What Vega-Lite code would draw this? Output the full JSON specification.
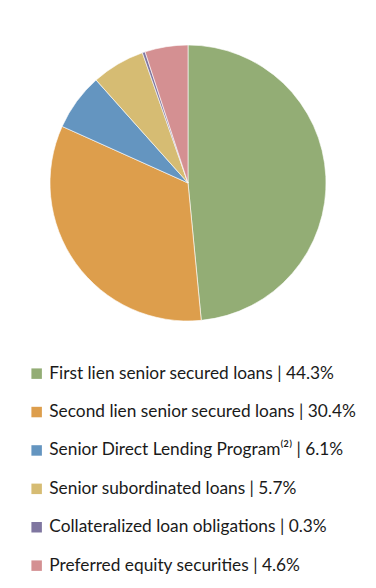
{
  "$schema": "https://vega.github.io/schema/vega-lite/v6.json",
  "width": 376,
  "height": 366,
  "autosize": "none",
  "padding": {"left": 0, "top": 0, "right": 0, "bottom": 222},
  "background": "white",
  "data": {
    "values": [
      {"idx": 1, "label": "First lien senior secured loans | 44.3%", "value": 44.3},
      {"idx": 2, "label": "Second lien senior secured loans | 30.4%", "value": 30.4},
      {"idx": 3, "label": "Senior Direct Lending Program⁽²⁾ | 6.1%", "value": 6.1},
      {"idx": 4, "label": "Senior subordinated loans | 5.7%", "value": 5.7},
      {"idx": 5, "label": "Collateralized loan obligations | 0.3%", "value": 0.3},
      {"idx": 6, "label": "Preferred equity securities | 4.6%", "value": 4.6}
    ]
  },
  "mark": {"type": "arc", "outerRadius": 138, "stroke": "white", "strokeWidth": 0.6},
  "encoding": {
    "theta": {"field": "value", "type": "quantitative", "stack": true},
    "order": {"field": "idx", "type": "quantitative"},
    "color": {
      "field": "label",
      "type": "nominal",
      "sort": null,
      "scale": {
        "domain": [
          "First lien senior secured loans | 44.3%",
          "Second lien senior secured loans | 30.4%",
          "Senior Direct Lending Program⁽²⁾ | 6.1%",
          "Senior subordinated loans | 5.7%",
          "Collateralized loan obligations | 0.3%",
          "Preferred equity securities | 4.6%"
        ],
        "range": ["#93AD75", "#DD9E4C", "#6495C0", "#D6BC73", "#7F76A0", "#D49092"]
      },
      "legend": {
        "title": null,
        "orient": "none",
        "legendX": 28,
        "legendY": 365,
        "direction": "vertical",
        "symbolType": "square",
        "symbolSize": 110,
        "symbolStrokeWidth": 0,
        "labelFont": "Lato",
        "labelFontSize": 17.3,
        "labelColor": "#1a1a1a",
        "labelLimit": 400,
        "labelOffset": 4,
        "rowPadding": 20.4,
        "padding": 0
      }
    }
  },
  "config": {"view": {"stroke": null}}
}
